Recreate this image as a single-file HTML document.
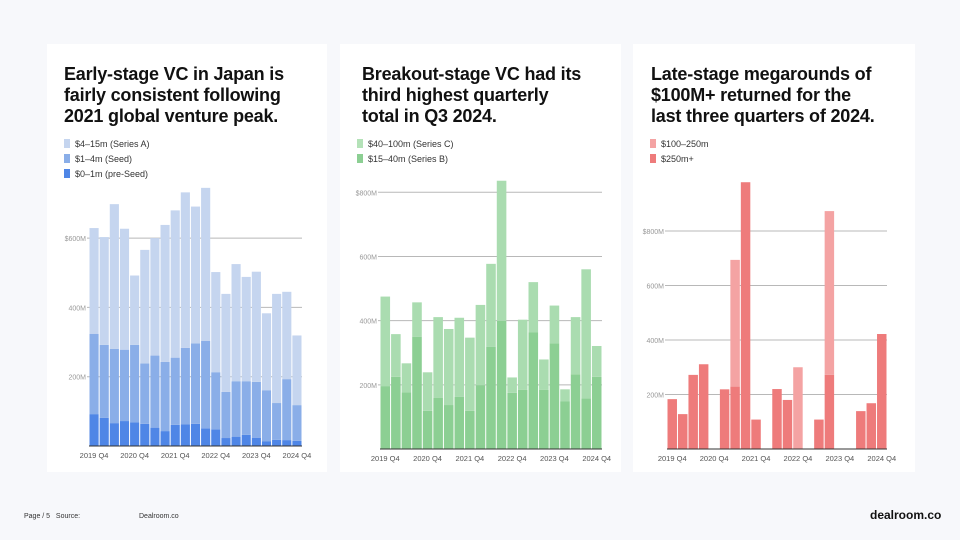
<!DOCTYPE html>
<html><head><meta charset="utf-8">
<style>
body{margin:0;width:960px;height:540px;background:#f7f8fb;font-family:"Liberation Sans",sans-serif;position:relative;overflow:hidden}
.card{position:absolute;top:44px;height:428px;background:#fff}
.title{position:absolute;font-weight:bold;font-size:18px;line-height:21px;color:#111;letter-spacing:-0.2px}
.leg{position:absolute;font-size:9px;color:#333;line-height:15px}
.leg span{display:inline-block;width:6px;height:9px;margin-right:5px;vertical-align:-1px}
svg{position:absolute;left:0;top:0}
.foot{position:absolute;font-size:7px;color:#333}
</style></head><body>
<div class="card" style="left:47px;width:280px"></div>
<div class="card" style="left:340px;width:281px"></div>
<div class="card" style="left:633px;width:282px"></div>

<div class="title" style="left:64px;top:64px">Early-stage VC in Japan is<br>fairly consistent following<br>2021 global venture peak.</div>
<div class="title" style="left:362px;top:64px">Breakout-stage VC had its<br>third highest quarterly<br>total in Q3 2024.</div>
<div class="title" style="left:651px;top:64px">Late-stage megarounds of<br>$100M+ returned for the<br>last three quarters of 2024.</div>

<div class="leg" style="left:64px;top:137px">
<div><span style="background:#c5d5ef"></span>$4–15m (Series A)</div>
<div><span style="background:#8aaee8"></span>$1–4m (Seed)</div>
<div><span style="background:#4f86e6"></span>$0–1m (pre-Seed)</div>
</div>
<div class="leg" style="left:357px;top:137px">
<div><span style="background:#b4e2b8"></span>$40–100m (Series C)</div>
<div><span style="background:#8ccf93"></span>$15–40m (Series B)</div>
</div>
<div class="leg" style="left:650px;top:137px">
<div><span style="background:#f4a3a3"></span>$100–250m</div>
<div><span style="background:#ee7b7b"></span>$250m+</div>
</div>

<svg id="charts" width="960" height="540"></svg>

<div class="foot" style="left:24px;top:513px">Page / 5 &nbsp; Source:</div>
<div class="foot" style="left:139px;top:513px">Dealroom.co</div>
<div style="position:absolute;left:870px;top:508px;font-size:12px;font-weight:bold;color:#111">dealroom.co</div>

<script>
const quarters=["2019 Q4","2020 Q1","2020 Q2","2020 Q3","2020 Q4","2021 Q1","2021 Q2","2021 Q3","2021 Q4","2022 Q1","2022 Q2","2022 Q3","2022 Q4","2023 Q1","2023 Q2","2023 Q3","2023 Q4","2024 Q1","2024 Q2","2024 Q3","2024 Q4"];
const xTickLabels=["2019 Q4","2020 Q4","2021 Q4","2022 Q4","2023 Q4","2024 Q4"];
// Early stage
const earlyTotal=[629,603,698,627,492,566,600,638,680,732,691,745,502,439,525,488,503,383,439,445,319];
const earlyPreSeed=[92,81,66,72,68,64,53,43,61,62,64,51,48,23,27,32,24,13,18,17,15];
const earlyCumSeed=[324,292,280,278,292,238,261,243,255,283,296,303,213,156,187,187,185,161,124,193,118];
const earlyTicks=[200,400,600];
const earlyTickLabels=["200M","400M","$600M"];
// Breakout stage
const breakTotal=[475,358,267,457,239,411,374,409,347,449,577,836,223,403,520,279,447,186,411,560,321];
const breakSeriesB=[196,225,177,350,119,160,137,163,119,199,318,399,175,184,363,184,329,148,233,158,225];
const breakTicks=[200,400,600,800];
const breakTickLabels=["200M","400M","600M","$800M"];
// Late stage
const late250=[183,128,272,311,0,219,229,979,108,0,220,180,0,0,108,272,0,0,139,168,422];
const late100=[0,0,0,0,0,0,465,0,0,0,0,0,300,0,0,601,0,0,0,0,0];
const lateTicks=[200,400,600,800];
const lateTickLabels=["200M","400M","600M","$800M"];

const svg=document.getElementById('charts');
const NS='http://www.w3.org/2000/svg';
function mk(tag,attrs,name){const e=document.createElementNS(NS,tag);for(const k in attrs)e.setAttribute(k,attrs[k]);


svg.appendChild(e);return e;}

function chart(cfg){
  const n=quarters.length, slot=(cfg.x1-cfg.x0)/n;
  const y=v=>cfg.y0-v*cfg.k;
  const x=i=>cfg.x0+i*slot;
  cfg.ticks.forEach((t,i)=>{
    mk('line',{x1:cfg.x0-2,x2:cfg.x1,y1:y(t),y2:y(t),stroke:'#b8b8b8','stroke-width':1},cfg.id+'-gridline');
    const tx=mk('text',{x:cfg.x0-3,y:y(t)+3,'font-size':7,fill:'#999','text-anchor':'end','font-family':'Liberation Sans'},cfg.id+'-y-tick-label');
    tx.textContent=cfg.tickLabels[i];
  });
  cfg.series.forEach(s=>{
    for(let i=0;i<n;i++){
      const base=s.base?s.base[i]:0, v=s.vals[i];
      if(v<=0)continue;
      mk('rect',{x:x(i)+0.5,width:slot-1,y:y(base+v),height:v*cfg.k,fill:s.color},cfg.id+'-bar-'+s.name);
    }
  });
  mk('line',{x1:cfg.x0,x2:cfg.x1,y1:cfg.y0,y2:cfg.y0,stroke:'#333','stroke-width':1},cfg.id+'-x-axis');
  xTickLabels.forEach(l=>{
    const i=quarters.indexOf(l);
    const tx=mk('text',{x:x(i)+slot/2,y:cfg.y0+12,'font-size':7.5,fill:'#555','text-anchor':'middle','font-family':'Liberation Sans'},cfg.id+'-x-tick-label');
    tx.textContent=l;
  });
}
const earlySeed=earlyCumSeed.map((c,i)=>c-earlyPreSeed[i]);
const earlyA=earlyTotal.map((t,i)=>t-earlyCumSeed[i]);
chart({id:'early',x0:89,x1:302,y0:446,k:0.3465,ticks:earlyTicks,tickLabels:earlyTickLabels,series:[
  {name:'pre-seed',vals:earlyPreSeed,color:'#4f86e6'},
  {name:'seed',vals:earlySeed,base:earlyPreSeed,color:'#8aaee8'},
  {name:'series-a',vals:earlyA,base:earlyCumSeed,color:'#c5d5ef'}]});
const breakC=breakTotal.map((t,i)=>t-breakSeriesB[i]);
chart({id:'breakout',x0:380,x1:602,y0:449,k:0.3209,ticks:breakTicks,tickLabels:breakTickLabels,series:[
  {name:'series-b',vals:breakSeriesB,color:'#8ccf93'},
  {name:'series-c',vals:breakC,base:breakSeriesB,color:'#aadcb0'}]});
chart({id:'late',x0:667,x1:887,y0:449,k:0.2725,ticks:lateTicks,tickLabels:lateTickLabels,series:[
  {name:'250m-plus',vals:late250,color:'#ee7b7b'},
  {name:'100-250m',vals:late100,base:late250,color:'#f4a3a3'}]});
</script>
</body></html>
